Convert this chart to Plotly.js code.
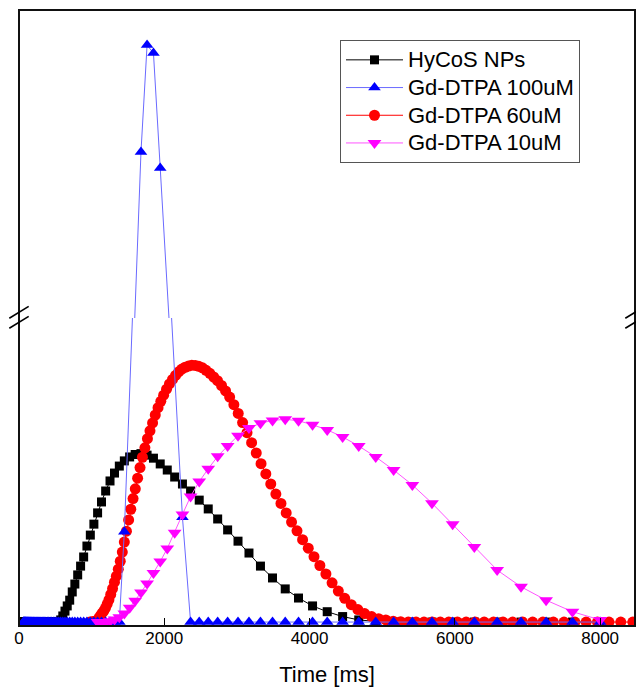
<!DOCTYPE html>
<html>
<head>
<meta charset="utf-8">
<script src="https://cdn.plot.ly/plotly-3.0.1.min.js"></script>
<style>
  html, body { margin: 0; padding: 0; background: #fff; }
  #chart { width: 636px; height: 687px; }
</style>
</head>
<body>
<div id="chart"></div>
<script>
// Shared time samples (ms) for HyCoS NPs, Gd-DTPA 100uM and Gd-DTPA 10uM
const timeMs = [61,64,67,70,74,78,82,86,90,94,99,104,109,115,120,126,133,139,146,154,161,169,178,187,196,206,216,227,238,250,263,276,290,304,320,336,352,370,388,408,428,450,472,496,521,547,574,603,633,664,698,733,769,808,848,890,935,982,1031,1082,1136,1193,1253,1315,1381,1450,1523,1599,1679,1763,1851,1944,2041,2143,2250,2362,2481,2605,2735,2872,3015,3166,3324,3490,3665,3848,4041,4243,4455,4677,4911,5157,5415,5685,5970,6268,6582,6911,7256,7619,8000];

// Signal (arbitrary units; lower panel 0..1, upper panel above the axis break)
const hycosNPs = [0,0,0,0,0,0,0,0,0,0,0,0,0,0,0,0,0,0,0,0,0,0,0,0,0,0,0,0,0,0,0,0,0,0,0,0,0,0,0,0,0,0,0,0,0,0,
  0.007,0.020,0.036,0.053,0.072,0.099,0.125,0.155,0.184,0.214,0.250,0.286,0.322,0.359,0.395,0.431,0.464,0.490,0.513,0.530,0.543,0.551,0.554,0.549,0.539,0.520,0.500,0.477,0.454,0.431,0.401,0.372,0.339,0.303,0.266,0.227,0.184,0.145,0.109,0.079,0.053,0.034,0.018,0.007,0.002,
  0,0,0,0,0,0,0,0,0,0];

const gd100uM = [0,0,0,0,0,0,0,0,0,0,0,0,0,0,0,0,0,0,0,0,0,0,0,0,0,0,0,0,0,0,0,0,0,0,0,0,0,0,0,0,0,0,0,0,0,0,0,0,0,0,0,0,0,0,0,0,0,0,0,0,0,0,0,0,0,
  0.297,null,null,1.739,2.086,2.060,1.687,null,null,0.345,
  0,0,0,0,0,0,0,0,0,0,0,0,0,0,0,0,0,0,0,0,0,0,0,0,0,0];

const gd10uM = [null,null,null,null,null,null,null,null,null,null,null,null,null,null,null,null,null,null,null,null,
  null,null,null,null,null,null,null,null,null,null,null,null,null,null,null,null,null,null,null,null,
  null,null,null,null,null,null,null,null,null,null,null,null,null,null,null,null,null,null,null,
  0,0,0,
  0.003,0.008,0.016,0.028,0.047,0.070,0.097,0.127,0.161,0.199,0.242,0.294,0.354,0.413,0.462,0.504,0.545,0.579,0.613,0.638,0.654,0.663,0.667,0.662,0.649,0.632,0.609,0.579,0.543,0.500,0.451,0.391,0.322,0.247,0.171,0.116,0.072,0.034,0.007];

// Gd-DTPA 60uM has its own, denser time samples
const time60uM = [
  976,996,1016,1036,1057,1078,1099,1121,1144,1167,
  1190,1214,1238,1263,1288,1314,1340,1367,1394,1422,
  1450,1479,1509,1539,1570,1601,1633,1666,1699,1733,
  1768,1803,1839,1876,1914,1952,1991,2031,2071,2113,
  2155,2198,2242,2287,2333,2379,2427,2475,2525,2575,
  2627,2680,2733,2788,2844,2900,2958,3018,3078,3139,
  3202,3266,3332,3398,3466,3536,3606,3678,3752,3827,
  3904,3982,4061,4142,4225,4310,4396,4484,4574,4665,
  4758,4854,4951,5050,5151,5254,5359,5466,5575,5687,
  5800,5916,6035,6155,6279,6404,6532,6663,6796,6932,
  7071,7212,7356,7503,7653,7807,7963,8122,8284,8450];
const gd60uM = [
  0,0,0.001,0.002,0.003,0.006,0.013,0.021,0.029,0.036,
  0.046,0.059,0.073,0.091,0.110,0.131,0.151,0.174,0.200,0.230,
  0.263,0.299,0.336,0.371,0.406,0.438,0.473,0.508,0.542,0.573,
  0.603,0.629,0.655,0.681,0.705,0.726,0.746,0.766,0.783,0.798,
  0.811,0.823,0.832,0.838,0.842,0.845,0.844,0.841,0.836,0.828,
  0.818,0.806,0.794,0.778,0.760,0.740,0.715,0.686,0.656,0.623,
  0.590,0.556,0.521,0.487,0.454,0.421,0.390,0.359,0.329,0.300,
  0.271,0.243,0.215,0.186,0.158,0.129,0.102,0.078,0.057,0.041,
  0.028,0.018,0.011,0.007,0.003,0.001,0,0,0,0,
  0,0,0,0,0,0,0,0,0,0,
  0,0,0,0,0,0,0,0,0,0];

const xTicks = [0, 2000, 4000, 6000, 8000];
const seriesNames = ['HyCoS NPs', 'Gd-DTPA 100uM', 'Gd-DTPA 60uM', 'Gd-DTPA 10uM'];

const FONT = 'Arial, "Liberation Sans", sans-serif';
const legendLabel = s => '<span style="font-size:22px">' + s + '</span>';

const traces = [
  { x: timeMs, y: hycosNPs, name: legendLabel(seriesNames[0]), legendrank: 1, type: 'scatter', mode: 'lines+markers',
    xaxis: 'x', yaxis: 'y',
    line: { color: '#000000', width: 1 }, marker: { symbol: 'square', size: 9, color: '#000000' } },
  { x: time60uM, y: gd60uM, name: legendLabel(seriesNames[2]), legendrank: 3, type: 'scatter', mode: 'lines+markers',
    xaxis: 'x', yaxis: 'y',
    line: { color: '#ff0000', width: 1 }, marker: { symbol: 'circle', size: 11, color: '#ff0000' } },
  { x: timeMs, y: gd100uM, name: legendLabel(seriesNames[1]), legendrank: 2, type: 'scatter', mode: 'lines+markers',
    xaxis: 'x', yaxis: 'y', connectgaps: true, legendgroup: 'b',
    line: { color: '#6a6aff', width: 1 }, marker: { symbol: 'triangle-up', size: 11, color: '#0000ff' } },
  { x: timeMs, y: gd100uM, name: legendLabel(seriesNames[1]), showlegend: false, type: 'scatter', mode: 'lines+markers',
    xaxis: 'x', yaxis: 'y2', connectgaps: true, legendgroup: 'b',
    line: { color: '#6a6aff', width: 1 }, marker: { symbol: 'triangle-up', size: 11, color: '#0000ff' } },
  { x: timeMs, y: gd10uM, name: legendLabel(seriesNames[3]), legendrank: 4, type: 'scatter', mode: 'lines+markers',
    xaxis: 'x', yaxis: 'y',
    line: { color: '#ff55ff', width: 1 }, marker: { symbol: 'triangle-down', size: 12, color: '#ff00ff' } }
];

function slash(xc, yc) {
  return { type: 'line', xref: 'paper', yref: 'paper',
    x0: xc - 9.7/616, y0: yc - 5.9/616, x1: xc + 9.7/616, y1: yc + 5.9/616,
    line: { color: '#000', width: 1.6 } };
}
const yBreak1 = (626 - 312.3) / 616, yBreak2 = (626 - 322.3) / 616;

const layout = {
  width: 636, height: 687,
  margin: { l: 19, r: 1, t: 10, b: 61 },
  paper_bgcolor: '#fff', plot_bgcolor: '#fff',
  font: { family: FONT, color: '#000' },
  showlegend: true,
  legend: {
    x: (340 - 19) / 616, y: (626 - 40) / 616, xanchor: 'left', yanchor: 'top',
    bgcolor: '#fff', bordercolor: '#555', borderwidth: 1,
    font: { family: FONT, size: 19, color: '#000' },
    itemwidth: 57, traceorder: 'normal'
  },
  xaxis: {
    domain: [0, 1], anchor: 'y', range: [0, 8480],
    tickmode: 'array', tickvals: xTicks, ticktext: xTicks.map(String),
    ticks: 'inside', ticklen: 8, tickwidth: 1, tickcolor: '#000',
    tickfont: { family: FONT, size: 17, color: '#000' },
    showgrid: false, zeroline: false, showline: false,
    title: { text: 'Time [ms]', font: { family: FONT, size: 22, color: '#000' }, standoff: 19 }
  },
  yaxis: {
    domain: [0, 0.5], anchor: 'x', range: [-0.013, 1.0],
    showticklabels: false, ticks: '', showgrid: false, zeroline: false, showline: false
  },
  yaxis2: {
    domain: [0.5, 1], anchor: 'x', range: [1.2, 2.2],
    showticklabels: false, ticks: '', showgrid: false, zeroline: false, showline: false
  },
  shapes: [
    { type: 'rect', xref: 'paper', yref: 'paper', x0: 0, y0: 0, x1: 1, y1: 1,
      line: { color: '#111', width: 2 } },
    slash(0, yBreak1), slash(0, yBreak2), slash(1, yBreak1), slash(1, yBreak2)
  ]
};

Plotly.newPlot('chart', traces, layout, { displayModeBar: false, staticPlot: true });
</script>
</body>
</html>
